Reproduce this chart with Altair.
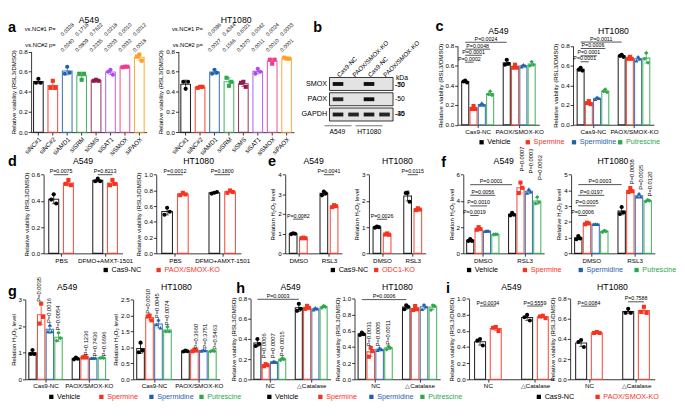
import altair as alt
import pandas as pd

FONT = "Liberation Sans"
K, R, B, G = "#000000", "#F5331F", "#1F62AC", "#2DA84A"
W, H = 677, 401

VIAB = "Relative viability (RSL3/DMSO)"
H2O2 = "Relation H\u2082O\u2082 level"
H2O2b = "Relative H\u2082O\u2082 level"

# ---------------- shared series ----------------
treat = ["Vehicle", "Spermine", "Spermidine", "Putrescine"]
treat_colors = [K, R, B, G]
treat_shapes = ["circle", "square", "triangle-up", "diamond"]
ko = ["Cas9-NC", "PAOX/SMOX-KO"]
odc = ["Cas9-NC", "ODC1-KO"]
pair_colors = [K, R]
pair_shapes = ["circle", "square"]

cmp_trt = [((0, 0), (0, 1)), ((0, 0), (0, 2)), ((0, 0), (0, 3)), ((0, 0), (1, 0))]
cmp_pair = [((0, 0), (0, 1)), ((1, 0), (1, 1))]
cmp_grp = [((0, 0), (1, 0))]

# ---------------- panel a ----------------
a_names = ["siNC#1", "siNC#2", "siAMD1", "siSRM", "siSMS", "siSAT1", "siSMOX", "siPAOX"]
a_colors = [K, R, B, G, "#8E1A4E", "#A64DF0", "#F2398C", "#FFA020"]
a_shapes = ["circle", "square", "circle", "square", "square", "circle", "square", "square"]
a_A549 = [[0.49, 0.53, 0.49], [0.44, 0.51, 0.44], [0.58, 0.65, 0.59], [0.58, 0.52, 0.58],
          [0.51, 0.52, 0.51], [0.60, 0.62, 0.57], [0.645, 0.65, 0.65], [0.75, 0.77, 0.71]]
a_HT1080 = [[0.50, 0.43, 0.50], [0.44, 0.45, 0.45], [0.58, 0.62, 0.59], [0.54, 0.46, 0.50],
            [0.49, 0.50, 0.45], [0.58, 0.63, 0.60], [0.72, 0.68, 0.72], [0.74, 0.73, 0.73]]
a_A549_p1 = ["0.0328", "0.1718", "0.7622", "0.0218", "0.0010", "0.0012"]
a_A549_p2 = ["0.0240", "0.0809", "0.2235", "0.0203", "0.0032", "0.0018"]
a_HT1080_p1 = ["0.0096", "0.4344", "0.6021", "0.0042", "0.0024", "0.0003"]
a_HT1080_p2 = ["0.0027", "0.1566", "0.3270", "0.0011", "0.0010", "0.0001"]

# ---------------- panel b (blot) ----------------
blot_rows = ["SMOX", "PAOX", "GAPDH"]
blot_lanes = ["Cas9-NC", "PAOX/SMOX-KO", "Cas9-NC", "PAOX/SMOX-KO"]
blot_signal = [[1.0, 0.0, 1.0, 0.0], [0.9, 0.0, 1.0, 0.0], [0.95, 0.9, 0.95, 0.9]]
blot_cells = ["A549", "HT1080"]
blot_kda_top = [("SMOX", "-70"), ("GAPDH", "-40")]
blot_kda_low = [("SMOX", "-50"), ("PAOX", "-50"), ("GAPDH", "-35")]

# ---------------- panel c ----------------
c_groups = ["Cas9-NC", "PAOX/SMOX-KO"]
c_A549 = [[[0.44, 0.45, 0.43], [0.16, 0.19, 0.16], [0.20, 0.22, 0.20], [0.31, 0.34, 0.30]],
          [[0.61, 0.66, 0.62], [0.58, 0.61, 0.58], [0.59, 0.61, 0.60], [0.60, 0.64, 0.61]]]
c_HT1080 = [[[0.56, 0.58, 0.55], [0.22, 0.24, 0.21], [0.26, 0.28, 0.27], [0.34, 0.36, 0.33]],
            [[0.70, 0.71, 0.69], [0.67, 0.69, 0.67], [0.65, 0.69, 0.67], [0.67, 0.73, 0.63]]]
c_A549_p = ["P=0.0002", "P=0.0001", "P=0.0048", "P=0.0024"]
c_A549_py = [0.636, 0.706, 0.768, 0.838]
c_HT1080_p = ["P=0.0001", "P=0.0001", "P=0.0006", "P=0.0011"]
c_HT1080_py = [0.64, 0.70, 0.775, 0.84]

# ---------------- panel d ----------------
d_groups = ["PBS", "DFMO+AMXT-1501"]
d_A549 = [[[0.41, 0.45, 0.38], [0.53, 0.56, 0.52]], [[0.55, 0.57, 0.55], [0.52, 0.56, 0.53]]]
d_HT1080 = [[[0.49, 0.58, 0.53], [0.74, 0.77, 0.75]], [[0.76, 0.77, 0.78], [0.77, 0.80, 0.78]]]
d_A549_p = ["P=0.0075", "P=0.8213"]
d_A549_py = [0.60, 0.60]
d_HT1080_p = ["P=0.0012", "P=0.1800"]
d_HT1080_py = [1.0, 1.0]

# ---------------- panel e ----------------
e_groups = ["DMSO", "RSL3"]
e_A549 = [[[0.98, 1.02, 1.0], [0.77, 0.80, 0.77]], [[2.95, 3.15, 3.05], [2.35, 2.45, 2.40]]]
e_HT1080 = [[[0.98, 1.02, 1.0], [0.72, 0.76, 0.71]], [[2.30, 2.30, 1.97], [1.65, 1.72, 1.67]]]
e_A549_p = ["P=0.0082", "P=0.0041"]
e_A549_py = [1.74, 4.0]
e_HT1080_p = ["P=0.0026", "P=0.0115"]
e_HT1080_py = [1.3, 3.0]

# ---------------- panel f ----------------
f_groups = ["DMSO", "RSL3"]
f_A549 = [[[0.95, 1.10, 0.95], [1.80, 2.00, 1.85], [1.68, 1.72, 1.70], [1.43, 1.45, 1.45]],
          [[2.90, 3.10, 2.95], [4.60, 5.40, 5.00], [4.60, 4.90, 4.70], [3.80, 4.30, 3.90]]]
f_HT1080 = [[[0.90, 1.10, 0.95], [1.85, 1.95, 1.90], [1.85, 1.87, 1.85], [1.35, 1.45, 1.40]],
            [[2.50, 2.95, 2.60], [3.90, 4.15, 3.95], [3.60, 3.80, 3.60], [3.30, 3.40, 3.35]]]
f_A549_p = ["P=0.0019", "P=0.0010", "P=0.0056", "P=0.0001"]
f_A549_py = [2.89, 3.62, 4.43, 5.24]
f_HT1080_p = ["P=0.0006", "P=0.0005", "P=0.0197", "P=0.0003"]
f_HT1080_py = [2.41, 3.02, 3.69, 4.37]
f_vkeys = [(1, 1), (1, 2), (1, 3)]
f_A549_v = ["P=0.0007", "P=0.0003", "P=0.0062"]
f_A549_vy = [6.25, 6.1, 5.6]
f_HT1080_v = ["P=0.0008", "P=0.0025", "P=0.0120"]
f_HT1080_vy = [4.40, 4.05, 3.62]

# ---------------- panel g ----------------
g_groups = ["Cas9-NC", "PAOX/SMOX-KO"]
g_A549 = [[[0.95, 1.10, 0.95], [2.10, 2.85, 2.35], [1.80, 2.05, 1.80], [1.45, 1.75, 1.55]],
          [[0.75, 0.82, 0.77], [0.82, 0.85, 0.82], [0.79, 0.80, 0.80], [0.80, 0.81, 0.80]]]
g_HT1080 = [[[0.85, 1.15, 0.90], [1.97, 2.00, 1.85], [1.72, 1.87, 1.62], [1.50, 1.65, 1.50]],
            [[0.87, 0.90, 0.88], [0.88, 0.93, 0.90], [0.89, 0.92, 0.90], [0.87, 0.90, 0.88]]]
g_vkeys = [(0, 1), (0, 2), (0, 3), (1, 1), (1, 2), (1, 3)]
g_A549_v = ["P=0.0035", "P=0.0016", "P=0.0054", "P=0.1236", "P=0.7436", "P=0.6696"]
g_A549_vy = [2.92, 2.12, 1.84, 0.90, 0.86, 0.86]
g_HT1080_v = ["P=0.0010", "P=0.0045", "P=0.0074", "P=0.3660", "P=0.3751", "P=0.5463"]
g_HT1080_vy = [2.06, 1.92, 1.70, 0.96, 0.96, 0.93]

# ---------------- panel h ----------------
h_groups = ["NC", "\u25b3Catalase"]
h_A549 = [[[0.33, 0.40, 0.35], [0.13, 0.15, 0.14], [0.17, 0.18, 0.17], [0.19, 0.21, 0.20]],
          [[0.68, 0.75, 0.70], [0.70, 0.73, 0.71], [0.69, 0.71, 0.70], [0.71, 0.73, 0.72]]]
h_HT1080 = [[[0.55, 0.58, 0.56], [0.28, 0.39, 0.35], [0.36, 0.39, 0.37], [0.37, 0.41, 0.39]],
            [[0.87, 0.92, 0.90], [0.86, 0.91, 0.87], [0.87, 0.93, 0.90], [0.86, 0.92, 0.91]]]
h_A549_p = ["P=0.0003"]
h_A549_py = [0.795]
h_HT1080_p = ["P=0.0006"]
h_HT1080_py = [0.99]
h_vkeys = [(0, 1), (0, 2), (0, 3)]
h_A549_v = ["P=0.0006", "P=0.0007", "P=0.0015"]
h_A549_vy = [0.21, 0.21, 0.23]
h_HT1080_v = ["P=0.0031", "P=0.0005", "P=0.0011"]
h_HT1080_vy = [0.41, 0.41, 0.43]

# ---------------- panel i ----------------
i_groups = ["NC", "\u25b3Catalase"]
i_A549 = [[[0.48, 0.50, 0.42], [0.64, 0.65, 0.60]], [[0.77, 0.80, 0.73], [0.78, 0.79, 0.76]]]
i_HT1080 = [[[0.37, 0.39, 0.32], [0.46, 0.47, 0.46]], [[0.66, 0.70, 0.66], [0.67, 0.72, 0.66]]]
i_A549_p = ["P=0.0034", "P=0.5559"]
i_A549_py = [0.91, 0.91]
i_HT1080_p = ["P=0.0084", "P=0.7588"]
i_HT1080_py = [0.727, 0.77]


# ---------------- layout helpers (reference pixel frame -> this page) ----------------
def SX(v):
    return max(0.0, v - 3)


def SY(v):
    return round(v * H / 417, 1)


def rect(x0, x1, y0, y1):
    return (SX(x0), SX(x1), SY(y0), SY(y1))


def note(text, x, y, **kw):
    kw.setdefault("color", "black")
    return alt.Chart(pd.DataFrame({"t": [text]})).mark_text(**kw).encode(
        x=alt.value(x), y=alt.value(y), text="t:N")


XLAB = 6.5


def panel(rc, series, colors, shapes, vals, ymax, yticks, yfmt, ytitle,
          groups=None, pi=0.2, po=0.5, brackets=None, vlab=None, headers=None,
          capw=4, psize=18):
    x0, x1, y0, y1 = rc
    single = groups is None
    glist = [None] if single else groups
    slots, idx, bars, pts, caps = [], {}, [], [], []
    for gi, g in enumerate(glist):
        for si, s in enumerate(series):
            slot = s if single else f"{g}|{s}"
            idx[(gi, si)] = len(slots)
            slots.append(slot)
            v = vals[si] if single else vals[gi][si]
            m = sum(v) / len(v)
            sd = (sum((x - m) ** 2 for x in v) / (len(v) - 1)) ** 0.5
            col = colors[si]
            bars.append(dict(slot=slot, col=col, mean=m, lo=m - sd, hi=m + sd))
            for ri, x in enumerate(v):
                pts.append(dict(slot=slot, col=col, shp=shapes[si], rep=f"r{ri}", value=x))
            caps.append(dict(slot=slot, col=col, yv=m - sd))
            caps.append(dict(slot=slot, col=col, yv=m + sd))
        if not single and gi < len(glist) - 1:
            slots.append(f"gap{gi}")

    xs = alt.Scale(domain=slots, range=[x0, x1], paddingInner=pi, paddingOuter=po)
    ys = alt.Scale(domain=[0, ymax], range=[y1, y0], nice=False, zero=False)
    xoff = y1 - H
    xaxis = alt.Axis(title=None, labelAngle=-45, labelFontSize=XLAB, orient="bottom",
                     offset=xoff) if single else None

    def X(ax=None):
        return alt.X("slot:N", scale=xs, axis=ax)

    def Y(f):
        return alt.Y(f, scale=ys, axis=None)

    bdf = pd.DataFrame(bars)
    layers = [
        alt.Chart(bdf).mark_bar(fill="white", strokeWidth=1.1, strokeOpacity=0.85).encode(
            x=X(xaxis),
            y=alt.Y("mean:Q", scale=ys, axis=alt.Axis(values=yticks, format=yfmt, title=ytitle,
                                                      orient="left", offset=-x0)),
            stroke=alt.Stroke("col:N", scale=None)),
        alt.Chart(bdf).mark_rule(strokeWidth=0.8).encode(
            x=X(), y=Y("lo:Q"), y2="hi:Q", stroke=alt.Stroke("col:N", scale=None)),
        alt.Chart(pd.DataFrame(caps)).mark_tick(thickness=0.8, size=capw).encode(
            x=X(), y=Y("yv:Q"), color=alt.Color("col:N", scale=None)),
        alt.Chart(pd.DataFrame(pts)).mark_point(filled=True, size=psize, opacity=1).encode(
            x=X(),
            xOffset=alt.XOffset("rep:N", scale=alt.Scale(domain=["r0", "r1", "r2"],
                                                         paddingInner=0, paddingOuter=1)),
            y=Y("value:Q"), color=alt.Color("col:N", scale=None),
            shape=alt.Shape("shp:N", scale=None)),
    ]
    if not single:
        n = len(series)
        P = (n - pi + 2 * po) / (2 * (n + 1))
        layers.append(alt.Chart(pd.DataFrame({"g": groups})).mark_point(opacity=0).encode(
            x=alt.X("g:N", scale=alt.Scale(type="point", domain=groups, range=[x0, x1], padding=P),
                    axis=alt.Axis(title=None, labelAngle=0, labelFontSize=XLAB,
                                  orient="bottom", offset=xoff)),
            y=alt.value(y1)))
    if brackets:
        a0 = -(po + 0.5 - pi / 2)
        a1 = len(slots) - 0.5 - pi / 2 + po
        ls = alt.Scale(domain=[a0, a1], range=[x0, x1], nice=False, zero=False)
        rows = []
        for (f, t), yv, txt in brackets:
            i1, i2 = idx[f], idx[t]
            rows.append(dict(x1=i1, x2=i2, xm=(i1 + i2) / 2, y=yv, t=txt))
        br = pd.DataFrame(rows)
        layers.append(alt.Chart(br).mark_rule(strokeWidth=0.7, color="black").encode(
            x=alt.X("x1:Q", scale=ls, axis=None), x2="x2:Q", y=Y("y:Q")))
        layers.append(alt.Chart(br).mark_text(fontSize=5.5, baseline="bottom", dy=-0.5,
                                              color="black").encode(
            x=alt.X("xm:Q", scale=ls, axis=None), y=Y("y:Q"), text="t:N"))
    if vlab:
        rows = []
        for key, txt, base in vlab:
            gi, si = key
            v = vals[gi][si]
            yb = base if base is not None else max(v) + 0.04 * ymax
            rows.append(dict(slot=slots[idx[key]], y=yb, t=txt))
        layers.append(alt.Chart(pd.DataFrame(rows)).mark_text(
            angle=270, align="left", baseline="middle", fontSize=6, color="black").encode(
            x=X(), y=Y("y:Q"), text="t:N"))
    if headers:
        rows, labs = [], []
        for yv, lab, pv in headers:
            labs.append(dict(slot=slots[1], y=yv, t=lab))
            for k, txt in enumerate(pv):
                rows.append(dict(slot=slots[2 + k], y=yv, t=txt))
        layers.append(alt.Chart(pd.DataFrame(rows)).mark_text(
            angle=315, align="center", baseline="middle", fontSize=5.5, color="black").encode(
            x=X(), y=Y("y:Q"), text="t:N"))
        layers.append(alt.Chart(pd.DataFrame(labs)).mark_text(
            align="right", baseline="middle", fontSize=6, dx=3, color="black").encode(
            x=X(), y=Y("y:Q"), text="t:N"))
    return layers


def title_note(text, rc, y_ref):
    x0, x1, _, _ = rc
    return note(text, (x0 + x1) / 2, SY(y_ref), fontSize=9, align="center", baseline="alphabetic")


def letter_note(text, x_ref, y_ref):
    return note(text, SX(x_ref), SY(y_ref), fontSize=15, fontWeight="bold",
                align="left", baseline="alphabetic")


def brk(cmps, ys_, ps):
    return [(c, y, p) for c, y, p in zip(cmps, ys_, ps)]


def vl(keys, ps, ys_=None):
    if ys_ is None:
        ys_ = [None] * len(keys)
    return [(k, p, y) for k, p, y in zip(keys, ps, ys_)]


def legend(names, colors, x_ref, step, y_ref):
    df = pd.DataFrame({"name": names, "col": colors})
    xs = alt.Scale(domain=names, range=[SX(x_ref), SX(x_ref) + step * len(names)],
                   paddingInner=0, paddingOuter=0)
    y = SY(y_ref)
    sq = alt.Chart(df).mark_square(size=20, opacity=1).encode(
        x=alt.X("name:N", scale=xs, axis=None, bandPosition=0), y=alt.value(y),
        color=alt.Color("col:N", scale=None))
    tx = alt.Chart(df).mark_text(align="left", dx=6, fontSize=7.5, baseline="middle").encode(
        x=alt.X("name:N", scale=xs, axis=None, bandPosition=0), y=alt.value(y),
        text="name:N", color=alt.Color("col:N", scale=None))
    return [sq, tx]


def blot_layers(rc):
    x0, x1, y0, y1 = rc
    lane_ids = [f"L{i + 1}" for i in range(len(blot_lanes))]
    expr = "[" + ",".join(f"'{n}'" for n in blot_lanes) + "][indexof([" + \
           ",".join(f"'{n}'" for n in lane_ids) + "], datum.value)]"
    lx = alt.Scale(domain=lane_ids, range=[x0, x1], paddingInner=0, paddingOuter=0.05)
    ry = alt.Scale(domain=blot_rows, range=[y0, y1], paddingInner=0.15, paddingOuter=0)
    fx = alt.Scale(domain=[0, 1], range=[x0, x1], nice=False, zero=False)
    box = alt.Chart(pd.DataFrame({"row": blot_rows, "f0": 0, "f1": 1})).mark_rect(
        fill="#e3e3e3", stroke="black", strokeWidth=0.8).encode(
        x=alt.X("f0:Q", scale=fx, axis=None), x2="f1:Q",
        y=alt.Y("row:N", scale=ry, axis=alt.Axis(title=None, domain=False, ticks=False,
                                                 labelFontSize=7.5, labelPadding=3,
                                                 orient="left", offset=-x0)))
    rows = []
    for ri, r in enumerate(blot_rows):
        for li, l in enumerate(lane_ids):
            if blot_signal[ri][li] > 0:
                rows.append(dict(row=r, lane=l, v=blot_signal[ri][li]))
    bands = alt.Chart(pd.DataFrame(rows)).mark_tick(
        orient="horizontal", thickness=4, size=11, color="#111111").encode(
        x=alt.X("lane:N", scale=lx,
                axis=alt.Axis(orient="top", offset=-y0, title=None, labelAngle=-45,
                              labelAlign="left", labelBaseline="middle", domain=False,
                              ticks=False, labelExpr=expr, labelFontSize=6.5, labelPadding=2)),
        y=alt.Y("row:N", scale=ry, axis=None),
        opacity=alt.Opacity("v:Q", scale=None))
    kt = pd.DataFrame(blot_kda_top, columns=["row", "t"])
    kl = pd.DataFrame(blot_kda_low, columns=["row", "t"])
    k_top = alt.Chart(kt).mark_text(align="left", baseline="middle", fontSize=7, dx=2,
                                    color="black").encode(
        x=alt.value(x1), y=alt.Y("row:N", scale=ry, axis=None, bandPosition=0), text="t:N")
    k_low = alt.Chart(kl).mark_text(align="left", baseline="middle", fontSize=7, dx=2,
                                    color="black").encode(
        x=alt.value(x1), y=alt.Y("row:N", scale=ry, axis=None, bandPosition=0.8), text="t:N")
    k_lab = alt.Chart(pd.DataFrame({"row": [blot_rows[0]], "t": ["kDa"]})).mark_text(
        align="left", baseline="bottom", fontSize=7, dx=3, dy=-4, color="black").encode(
        x=alt.value(x1), y=alt.Y("row:N", scale=ry, axis=None, bandPosition=0), text="t:N")
    cdf = pd.DataFrame({"a": [lane_ids[0], lane_ids[2]], "t": blot_cells})
    wl = (x1 - x0) / 2 - 5
    ul = alt.Chart(cdf).mark_tick(orient="horizontal", thickness=0.8, size=wl, color="black").encode(
        x=alt.X("a:N", scale=lx, axis=None, bandPosition=1), y=alt.value(y1 + 5))
    cl = alt.Chart(cdf).mark_text(fontSize=7, baseline="top", color="black").encode(
        x=alt.X("a:N", scale=lx, axis=None, bandPosition=1), y=alt.value(y1 + 7), text="t:N")
    return [box, bands, k_top, k_low, k_lab, ul, cl]


v08 = [0, 0.2, 0.4, 0.6, 0.8]
v10 = [0, 0.2, 0.4, 0.6, 0.8, 1.0]

L = []

# ---------------- row 1 ----------------
r_aA = rect(27, 147, 39, 126)
r_aH = rect(180, 300, 39, 126)
r_b = rect(337, 403, 67, 114)
r_cA = rect(470, 555, 33, 118)
r_cH = rect(590, 674, 33, 118)
L += panel(r_aA, a_names, a_colors, a_shapes, a_A549, 0.8, v08, ".1f", VIAB, pi=0.33, po=0.17,
           headers=[(1.02, "vs.NC#1 P=", a_A549_p1), (0.864, "vs.NC#2 p=", a_A549_p2)])
L += panel(r_aH, a_names, a_colors, a_shapes, a_HT1080, 0.8, v08, ".1f", VIAB, pi=0.33, po=0.17,
           headers=[(1.02, "vs.NC#1 P=", a_HT1080_p1), (0.864, "vs.NC#2 p=", a_HT1080_p2)])
L += [title_note("A549", r_aA, 8), title_note("HT1080", r_aH, 8), letter_note("a", 3, 18)]
L += blot_layers(r_b)
L += [letter_note("b", 320, 18)]
L += panel(r_cA, treat, treat_colors, treat_shapes, c_A549, 0.8, v08, ".1f", VIAB,
           groups=c_groups, pi=0.15, po=0.5, brackets=brk(cmp_trt, c_A549_py, c_A549_p))
L += panel(r_cH, treat, treat_colors, treat_shapes, c_HT1080, 0.8, v08, ".1f", VIAB,
           groups=c_groups, pi=0.15, po=0.5, brackets=brk(cmp_trt, c_HT1080_py, c_HT1080_p))
L += [title_note("A549", r_cA, 20), title_note("HT1080", r_cH, 20), letter_note("c", 447, 17)]
L += legend(treat, treat_colors, 471, 48, 137)

# ---------------- row 2 ----------------
r_dA = rect(40, 122, 172, 257)
r_dH = rect(157, 245, 172, 257)
r_eA = rect(291, 350, 172, 257)
r_eH = rect(378, 437, 172, 257)
r_fA = rect(476, 560, 172, 257)
r_fH = rect(588, 675, 172, 257)
L += panel(r_dA, ko, pair_colors, pair_shapes, d_A549, 0.6, [0, 0.2, 0.4, 0.6], ".1f", VIAB,
           groups=d_groups, pi=0.32, po=0.35, brackets=brk(cmp_pair, d_A549_py, d_A549_p))
L += panel(r_dH, ko, pair_colors, pair_shapes, d_HT1080, 1.0, v10, ".1f", VIAB,
           groups=d_groups, pi=0.32, po=0.35, brackets=brk(cmp_pair, d_HT1080_py, d_HT1080_p))
L += panel(r_eA, odc, pair_colors, pair_shapes, e_A549, 4, [0, 1, 2, 3, 4], "d", H2O2,
           groups=e_groups, pi=0.25, po=0.4, brackets=brk(cmp_pair, e_A549_py, e_A549_p))
L += panel(r_eH, odc, pair_colors, pair_shapes, e_HT1080, 3, [0, 1, 2, 3], "d", H2O2,
           groups=e_groups, pi=0.25, po=0.4, brackets=brk(cmp_pair, e_HT1080_py, e_HT1080_p))
L += panel(r_fA, treat, treat_colors, treat_shapes, f_A549, 6, [0, 2, 4, 6], "d", H2O2,
           groups=f_groups, pi=0.15, po=0.4, brackets=brk(cmp_trt, f_A549_py, f_A549_p),
           vlab=vl(f_vkeys, f_A549_v, f_A549_vy))
L += panel(r_fH, treat, treat_colors, treat_shapes, f_HT1080, 5, [0, 1, 2, 3, 4, 5], "d", H2O2b,
           groups=f_groups, pi=0.15, po=0.4, brackets=brk(cmp_trt, f_HT1080_py, f_HT1080_p),
           vlab=vl(f_vkeys, f_HT1080_v, f_HT1080_vy))
L += [title_note("A549", r_dA, 160), title_note("HT1080", r_dH, 160),
      title_note("A549", r_eA, 160), title_note("HT1080", r_eH, 160),
      title_note("A549", r_fA, 160), title_note("HT1080", r_fH, 160),
      letter_note("d", 3, 163), letter_note("e", 273, 163), letter_note("f", 453, 164)]
L += legend(ko, pair_colors, 77, 55, 275)
L += legend(odc, pair_colors, 318, 45, 275)
L += legend(treat, treat_colors, 453, 58, 275)

# ---------------- row 3 ----------------
r_gA = rect(21, 108, 307, 393)
r_gH = rect(133, 223, 307, 393)
r_hA = rect(255, 338, 306, 393)
r_hH = rect(363, 452, 306, 393)
r_iA = rect(482, 570, 306, 393)
r_iH = rect(587, 675, 306, 393)
L += panel(r_gA, treat, treat_colors, treat_shapes, g_A549, 3, [0, 1, 2, 3], "d", H2O2,
           groups=g_groups, pi=0.15, po=0.4, vlab=vl(g_vkeys, g_A549_v, g_A549_vy))
L += panel(r_gH, treat, treat_colors, treat_shapes, g_HT1080, 2.5, [0, 0.5, 1.0, 1.5, 2.0, 2.5], ".1f",
           H2O2, groups=g_groups, pi=0.15, po=0.4, vlab=vl(g_vkeys, g_HT1080_v, g_HT1080_vy))
L += panel(r_hA, treat, treat_colors, treat_shapes, h_A549, 0.8, v08, ".1f", VIAB,
           groups=h_groups, pi=0.15, po=0.4, brackets=brk(cmp_grp, h_A549_py, h_A549_p),
           vlab=vl(h_vkeys, h_A549_v, h_A549_vy))
L += panel(r_hH, treat, treat_colors, treat_shapes, h_HT1080, 1.0, v10, ".1f", VIAB,
           groups=h_groups, pi=0.15, po=0.4, brackets=brk(cmp_grp, h_HT1080_py, h_HT1080_p),
           vlab=vl(h_vkeys, h_HT1080_v, h_HT1080_vy))
L += panel(r_iA, ko, pair_colors, pair_shapes, i_A549, 1.0, v10, ".1f", VIAB,
           groups=i_groups, pi=0.3, po=0.35, brackets=brk(cmp_pair, i_A549_py, i_A549_p))
L += panel(r_iH, ko, pair_colors, pair_shapes, i_HT1080, 0.8, v08, ".1f", VIAB,
           groups=i_groups, pi=0.3, po=0.35, brackets=brk(cmp_pair, i_HT1080_py, i_HT1080_p))
L += [title_note("A549", r_gA, 297), title_note("HT1080", r_gH, 297),
      title_note("A549", r_hA, 297), title_note("HT1080", r_hH, 297),
      title_note("A549", r_iA, 297), title_note("HT1080", r_iH, 297),
      letter_note("g", 3, 303), letter_note("h", 240, 300), letter_note("i", 458, 300)]
L += legend(treat, treat_colors, 22, 52, 412)
L += legend(treat, treat_colors, 248, 53, 412)
L += legend(ko, pair_colors, 524, 61, 412)

chart = alt.layer(*L).resolve_scale(
    x="independent", y="independent", xOffset="independent"
).properties(
    width=W, height=H, padding={"left": 0, "top": 0, "right": 0, "bottom": 0}
).configure(font=FONT).configure_axis(
    labelFont=FONT, titleFont=FONT, labelFontSize=6.5, titleFontSize=6.3, titleFontWeight="normal",
    labelColor="black", titleColor="black", domainColor="black", tickColor="black",
    domainWidth=0.8, tickWidth=0.8, tickSize=3, labelPadding=1, titlePadding=2, grid=False
).configure_view(stroke=None).configure_text(font=FONT)

chart.save("out.html", embed_options={"renderer": "svg", "actions": False})
